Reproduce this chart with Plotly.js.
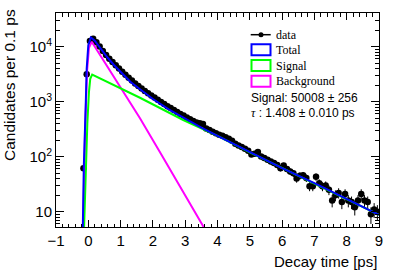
<!DOCTYPE html>
<html><head><meta charset="utf-8">
<script src="https://cdn.plot.ly/plotly-3.0.1.min.js"></script>
<style>html,body{margin:0;padding:0;background:#fff;}#chart{width:399px;height:271px;}</style>
</head><body><div id="chart"></div>
<script>
// ---- data ----
const binCenters = [-0.15,-0.05,0.05,0.15,0.25,0.35,0.45,0.55,0.65,0.75,0.85,0.95,1.05,1.15,1.25,1.35,1.45,1.55,1.65,1.75,1.85,1.95,2.05,2.15,2.25,2.35,2.45,2.55,2.65,2.75,2.85,2.95,3.05,3.15,3.25,3.35,3.45,3.55,3.65,3.75,3.85,3.95,4.05,4.15,4.25,4.35,4.45,4.55,4.65,4.75,4.85,4.95,5.05,5.15,5.25,5.35,5.45,5.55,5.65,5.75,5.85,5.95,6.05,6.15,6.25,6.35,6.45,6.55,6.65,6.75,6.85,6.95,7.05,7.15,7.25,7.35,7.45,7.55,7.65,7.75,7.85,7.95,8.05,8.15,8.25,8.35,8.45,8.55,8.65,8.75,8.85,8.95];
const counts = [62,3150,12700,13900,12100,10100,8400,7100,6050,5250,4600,4000,3500,3080,2720,2420,2150,1930,1740,1570,1430,1300,1190,1090,990,910,830,770,705,650,600,560,515,480,445,420,405,395,325,305,285,268,252,240,226,212,196,172,160,150,140,128,110,113,122,101,95,88,82,77,71,62,69,60,54,50,40,45,46,41,29,29,43,33,29,30,25,16,20,22,15,21,16,15,12,16,21,16,15,9,11,10];

const totalT = [-0.17,-0.14,-0.08,-0.05,0.0,0.08,0.2,0.4,0.6,0.8,1.0,1.3,1.6,2.0,2.5,3.0,3.5,4.0,5.0,6.0,7.0,8.0,9.0];
const totalV = [5.2,63,870,4000,10700,14800,12900,8900,6300,4600,3450,2300,1680,1120,720,490,338,240,120,62,33,17,8.8];

const signalT = [-0.13,-0.08,-0.03,0.02,0.06,0.12,1.6,2.94,3.5,4.0,5.0,6.0,7.0,8.0,9.0];
const signalV = [5.2,50,400,1500,2600,3100,1180,465,332,239,120,62,33,17,8.8];

const bkgT = [-0.16,-0.1,-0.04,0.02,0.105,1.6,2.27,3.58,3.8];
const bkgV = [5.2,300,3500,9500,12300,500,107,5.2,3.1];

const yTickVals = [10,100,1000,10000];
const yTickText = ['10','10<sup>2</sup>','10<sup>3</sup>','10<sup>4</sup>'];
const xTickVals = [-1,0,1,2,3,4,5,6,7,8,9];

const legendLabels = ['data','Total','Signal','Background'];
const signalText = 'Signal: 50008 ± 256';
const tauText = '<span style="font-family:Liberation Serif;font-style:italic">τ</span> : 1.408 ± 0.010 ps';

// ---- layout helpers ----
const PL=56, PR=379, PT=13, PB=227;
const px = x => (x-PL)/(PR-PL);
const py = y => (PB-y)/(PB-PT);
const SANS = 'Liberation Sans, Arial, sans-serif';
const SERIF = 'Liberation Serif, Times New Roman, serif';
const BLUE='#0000ff', GREEN='#00ff00', MAG='#ff00ff';

const traces = [
  {x: binCenters, y: counts, type:'scatter', mode:'markers',
   marker:{color:'black', size:6.5, symbol:'circle'},
   error_y:{type:'sqrt', visible:true, color:'black', thickness:1, width:0}},
  {x: bkgT, y: bkgV, type:'scatter', mode:'lines', line:{color:MAG, width:2}},
  {x: signalT, y: signalV, type:'scatter', mode:'lines', line:{color:GREEN, width:2}},
  {x: totalT, y: totalV, type:'scatter', mode:'lines', line:{color:BLUE, width:2}}
];

const boxY = [[44.3,55.3],[60,71],[75.7,86.7]];
const boxC = [BLUE,GREEN,MAG];
const shapes = [
  {type:'line', xref:'paper', yref:'paper', x0:px(250.7), x1:px(270.7), y0:py(34.7), y1:py(34.7), line:{color:'black', width:1.5}},
  {type:'circle', xref:'paper', yref:'paper', x0:px(258.5), x1:px(263.5), y0:py(37.2), y1:py(32.2), fillcolor:'black', line:{color:'black', width:0}}
];
boxY.forEach((b,i)=>shapes.push({type:'rect', xref:'paper', yref:'paper', x0:px(251.5), x1:px(270.5), y0:py(b[1]), y1:py(b[0]), line:{color:boxC[i], width:2}, fillcolor:'rgba(0,0,0,0)'}));

const legY = [34.7,49.7,65.5,81];
const annotations = legendLabels.map((t,i)=>({text:t, xref:'paper', yref:'paper', x:px(273.5), y:py(legY[i]), xanchor:'left', yanchor:'middle', showarrow:false, font:{family:SERIF, size:12, color:'black'}}));
annotations.push({text:signalText, xref:'paper', yref:'paper', x:px(249), y:py(97.7), xanchor:'left', yanchor:'middle', showarrow:false, font:{family:SANS, size:12, color:'black'}});
annotations.push({text:tauText, xref:'paper', yref:'paper', x:px(249), y:py(113.3), xanchor:'left', yanchor:'middle', showarrow:false, font:{family:SANS, size:12, color:'black'}});
annotations.push({text:'Decay time [ps]', xref:'paper', yref:'paper', x:1, y:0, xanchor:'right', yanchor:'middle', yshift:-34, showarrow:false, font:{family:SANS, size:15, color:'black'}});
annotations.push({text:'Candidates per 0.1 ps', xref:'paper', yref:'paper', x:px(9), y:py(85), xanchor:'center', yanchor:'middle', textangle:-90, showarrow:false, font:{family:SANS, size:15.5, color:'black'}});

const layout = {
  width:399, height:271,
  margin:{l:PL, r:399-PR, t:PT, b:271-PB, pad:0},
  paper_bgcolor:'white', plot_bgcolor:'white',
  showlegend:false,
  font:{family:SANS, color:'black'},
  xaxis:{range:[-1,9], tickmode:'array', tickvals:xTickVals, ticks:'inside', ticklen:7, tickwidth:1, tickcolor:'black',
         minor:{ticks:'inside', dtick:0.2, ticklen:3.5, tickwidth:1, tickcolor:'black', showgrid:false},
         showline:true, linecolor:'black', linewidth:1, mirror:'allticks', showgrid:false, zeroline:false,
         tickfont:{family:SANS, size:15, color:'black'}},
  yaxis:{type:'log', range:[0.722,4.613], tickmode:'array', tickvals:yTickVals, ticktext:yTickText, ticks:'inside', ticklen:8, tickwidth:1, tickcolor:'black',
         minor:{ticks:'inside', dtick:'D1', ticklen:4, tickwidth:1, tickcolor:'black', showgrid:false},
         showline:true, linecolor:'black', linewidth:1, mirror:'allticks', showgrid:false, zeroline:false,
         tickfont:{family:SANS, size:15, color:'black'}},
  shapes:shapes, annotations:annotations
};
Plotly.newPlot('chart', traces, layout, {staticPlot:true, displayModeBar:false});
</script>
</body></html>
